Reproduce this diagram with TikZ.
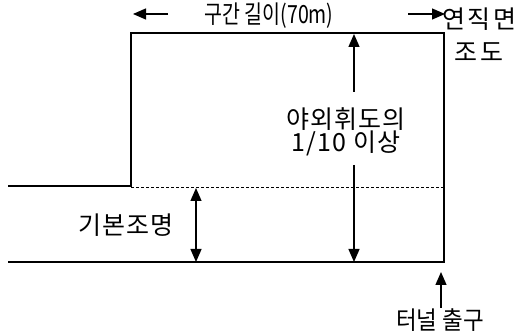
\documentclass[tikz,border=0pt]{standalone}
\usepackage{fontspec}
\usepackage{tikz}
\usetikzlibrary{arrows.meta,positioning,calc}
\newfontfamily\krfont{Noto Sans CJK KR}

\begin{document}
\begin{tikzpicture}[x=1pt,y=-1pt,
  wall/.style={line width=1.3pt},
  dim/.style={line width=1.3pt,{Triangle[length=13pt,width=11pt]}-{Triangle[length=13pt,width=11pt]}},
  tip/.style={line width=1.3pt,-{Triangle[length=13pt,width=11pt]}},
  lbl/.style={font=\fontsize{25}{23}\krfont\addfontfeature{LetterSpace=4},inner sep=0pt,align=center},
  toplbl/.style={lbl,font=\fontsize{25}{23}\krfont\addfontfeature{FakeStretch=0.78}},
  exitlbl/.style={lbl,font=\fontsize{25}{23}\krfont\addfontfeature{FakeStretch=0.9}},
  widelbl/.style={lbl,font=\fontsize{25}{23}\krfont\addfontfeature{LetterSpace=10}}]
\useasboundingbox (0,0) rectangle (515,336);

% Tunnel outline
\coordinate (a1) at (8,186);
\coordinate (a2) at (131,186);
\coordinate (a3) at (131,33);
\coordinate (a4) at (444,33);
\coordinate (a5) at (444,262);
\coordinate (a6) at (8,262);
\draw[wall] (a1) -- (a2) -- (a3) -- (a4) -- (a5) -- (a6);

\coordinate (d1) at (131,188);
\coordinate (d2) at (444,188);
\draw[line width=1pt,dash pattern=on 3pt off 2pt] (d1) -- (d2);

% Basic lighting
\coordinate (b1) at (196,188);
\coordinate (b2) at (196,262);
\draw[dim] (b1) -- (b2);
\node[lbl] (base) at (126,225) {기본조명};

% Outdoor luminance ratio
\node[lbl] (ratio) at (346,132) {야외휘도의\\1/10 이상};
\coordinate (r1) at (354,34);
\coordinate (r2) at (354,92);
\coordinate (r3) at (354,165);
\coordinate (r4) at (354,262);
\draw[tip] (r2) -- (r1);
\draw[tip] (r3) -- (r4);

% Section length
\node[toplbl] (len) at (269,16) {구간 길이(70m)};
\coordinate (l1) at (168,14);
\coordinate (l2) at (133,14);
\coordinate (l3) at (408,14);
\coordinate (l4) at (445,14);
\draw[tip] (l1) -- (l2);
\draw[tip] (l3) -- (l4);
\node[widelbl] (vert) at (479,35) {연직면\\[10pt]조도};

% Exit
\node[exitlbl] (exit) at (440,320) {터널 출구};
\coordinate (e1) at (441,308);
\coordinate (e2) at (441,272);
\draw[tip] (e1) -- (e2);
\end{tikzpicture}
\end{document}
